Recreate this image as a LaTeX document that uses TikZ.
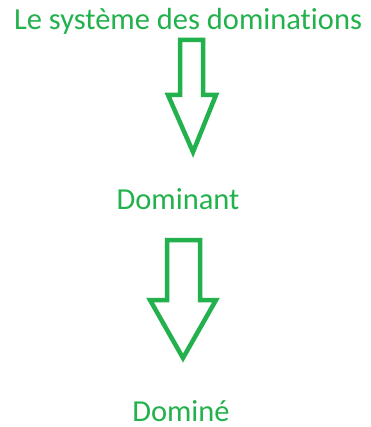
\documentclass[tikz,border=0pt]{standalone}
\usepackage{fontspec}
\setmainfont[Ligatures=NoCommon]{Carlito}
\definecolor{paintgreen}{HTML}{22B14C}
\tikzset{
  label/.style={text=paintgreen, font=\fontsize{30.5}{34}\selectfont, inner sep=0pt, anchor=base},
  blockarrow/.style={draw=paintgreen, line width=4.5pt, line join=miter, fill=white}
}
\begin{document}
\begin{tikzpicture}[x=1pt,y=-1pt]
  \useasboundingbox (0,0) rectangle (370,427);
  \node[label] (sys) at (188,30) {Le système des dominations};
  \node[label] (dom) at (178,210) {Dominant};
  \node[label] (domine) at (181,421) {Dominé};
  % first block arrow
  \draw[blockarrow] (180,40) -- (203,40) -- (203,95) -- (216,95) -- (193,152)
    -- (168,95) -- (180,95) -- cycle;
  % second block arrow
  \draw[blockarrow] (167,240) -- (200,240) -- (200,300) -- (216,300) -- (183,358)
    -- (150,300) -- (167,300) -- cycle;
\end{tikzpicture}
\end{document}
